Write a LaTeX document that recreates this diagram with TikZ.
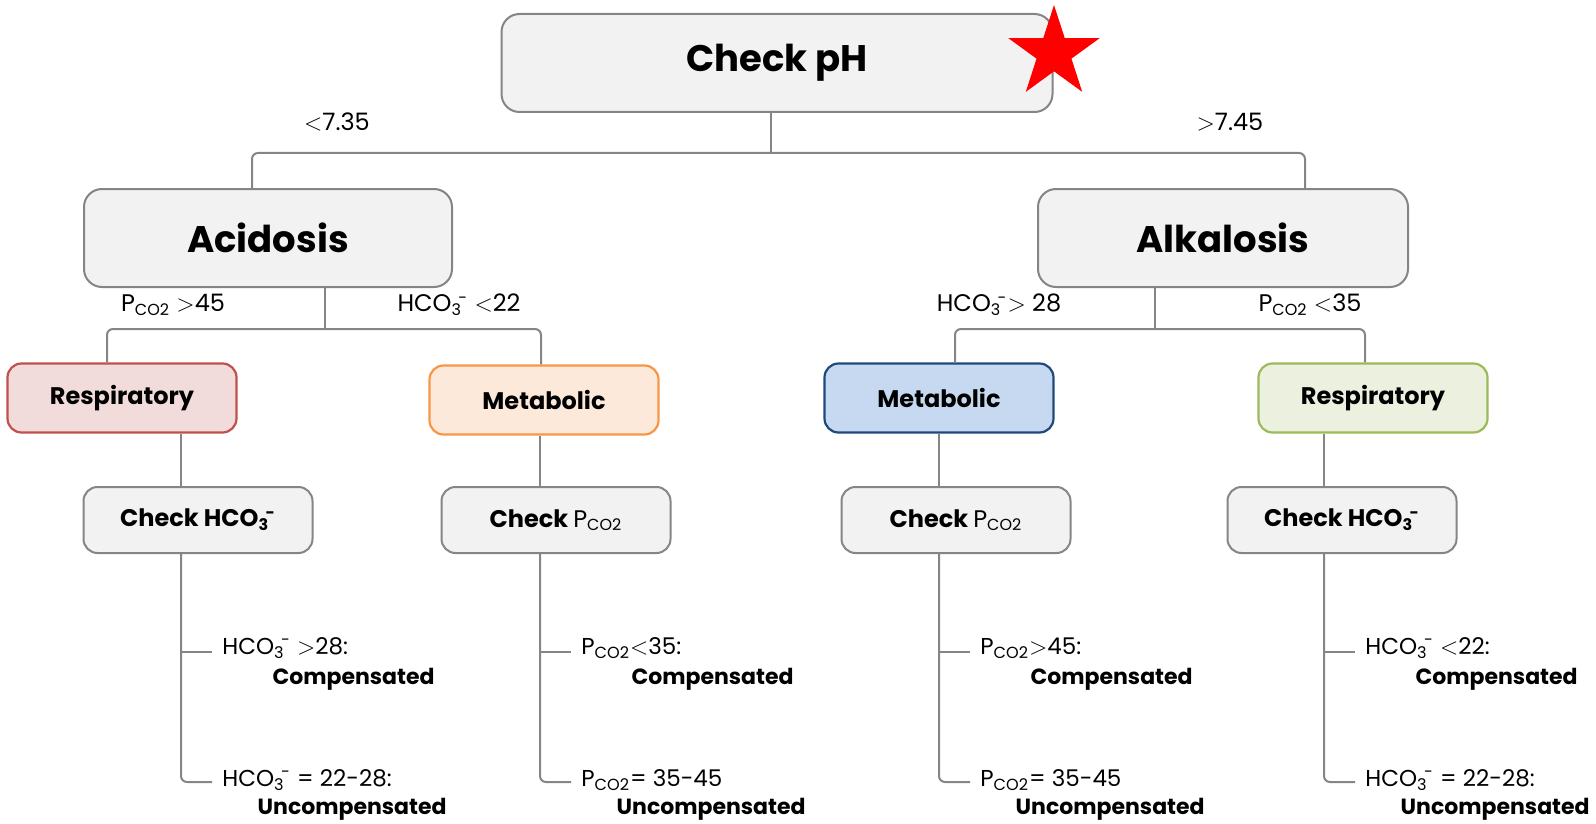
\documentclass[tikz,border=0pt]{standalone}
\usepackage{fontspec}
\setmainfont{Poppins}
\usetikzlibrary{shapes.geometric}

\definecolor{linegray}{HTML}{858585}
\definecolor{boxgray}{HTML}{F2F2F2}
\definecolor{redfill}{HTML}{F2DCDB}
\definecolor{reddraw}{HTML}{C0504D}
\definecolor{orangefill}{HTML}{FDE9D9}
\definecolor{orangedraw}{HTML}{F79646}
\definecolor{bluefill}{HTML}{C6D9F1}
\definecolor{bluedraw}{HTML}{1F497D}
\definecolor{greenfill}{HTML}{EBF1DE}
\definecolor{greendraw}{HTML}{9BBB59}

\newcommand{\pco}{P\textsubscript{CO2}}
\newcommand{\hco}{HCO\textsubscript{3}\kern-0.15em\textsuperscript{-}}
\newcommand{\lt}{$<$}
\newcommand{\gt}{$>$}

\tikzset{
  box/.style={draw=linegray, fill=boxgray, line width=1pt, rounded corners=7pt, align=center},
  bigbox/.style={box, minimum height=49pt, rounded corners=9pt, font=\fontsize{18.5}{22}\selectfont\bfseries},
  typebox/.style={box, line width=1.1pt, minimum width=114.5pt, minimum height=34.5pt, font=\fontsize{12}{14}\selectfont\bfseries},
  checkbox/.style={box, minimum width=114.5pt, minimum height=33pt, font=\fontsize{12}{14}\selectfont\bfseries},
  cond/.style={inner sep=0pt, font=\fontsize{12}{14}\selectfont},
  leaf/.style={inner sep=0pt, anchor=west, font=\fontsize{11.5}{14}\selectfont},
  result/.style={inner sep=0pt, anchor=east, font=\fontsize{11}{14}\selectfont\bfseries},
  conn/.style={draw=linegray, line width=1pt, rounded corners=3pt}
}

\begin{document}
\begin{tikzpicture}[x=0.5pt, y=-0.5pt]
    \useasboundingbox (0,0) rectangle (1596,824);

    % top of the tree
    \node[bigbox, minimum width=275.5pt] at (777,63) (ph) {Check pH};
    \node[star, star points=5, star point ratio=2.618, fill=red, inner sep=0pt, minimum size=48pt] at (1054,53) (star) {};
    \node[bigbox, minimum width=184pt] at (268,238) (acid) {Acidosis};
    \node[bigbox, minimum width=185pt] at (1223,238) (alk) {Alkalosis};

    % second level
    \node[typebox, fill=redfill, draw=reddraw] at (122,398) (resp1) {Respiratory};
    \node[typebox, fill=orangefill, draw=orangedraw] at (544,400) (met1) {Metabolic};
    \node[typebox, fill=bluefill, draw=bluedraw] at (939,398) (met2) {Metabolic};
    \node[typebox, fill=greenfill, draw=greendraw] at (1373,398) (resp2) {Respiratory};

    \node[checkbox] at (198,520) (chk1) {Check \hco};
    \node[checkbox] at (556,520) (chk2) {Check \textmd{\pco}};
    \node[checkbox] at (956,520) (chk3) {Check \textmd{\pco}};
    \node[checkbox] at (1342,520) (chk4) {Check \hco};

    % branch labels
    \node[cond] at (337,122) (lo) {\lt7.35};
    \node[cond] at (1230,122) (hi) {\gt7.45};
    \node[cond] at (173,305) (c1) {\pco\ \gt45};
    \node[cond] at (459,305) (c2) {\hco\ \lt22};
    \node[cond] at (999,305) (c3) {\hco\gt\ 28};
    \node[cond] at (1310,305) (c4) {\pco\ \lt35};

    % connectors
    \coordinate (j0) at (771,153);
    \coordinate (j1) at (325,329);
    \coordinate (j2) at (1155,329);
    \draw[conn] (ph.south -| j0) -- (j0);
    \draw[conn] (j0) -| ([xshift=-8pt]acid.north);
    \draw[conn] (j0) -| ([xshift=41pt]alk.north);
    \draw[conn] (acid.south -| j1) -- (j1);
    \draw[conn] (j1) -| ([xshift=-7.5pt]resp1.north);
    \draw[conn] (j1) -| ([xshift=-1.5pt]met1.north);
    \draw[conn] (alk.south -| j2) -- (j2);
    \draw[conn] (j2) -| ([xshift=8pt]met2.north);
    \draw[conn] (j2) -| ([xshift=-4pt]resp2.north);

    \foreach \n/\x/\mid/\up/\down in {1/181/resp1/{\hco\ \gt28:}/{\hco\ = 22-28:},
        2/540/met1/{\pco\lt35:}/{\pco= 35-45},
        3/939/met2/{\pco\gt45:}/{\pco= 35-45},
        4/1324/resp2/{\hco\ \lt22:}/{\hco\ = 22-28:}} {
      \coordinate (s\n) at (\x,0);
      \coordinate (ka\n) at (\x+31,652);
      \coordinate (kb\n) at (\x+31,782);
      \draw[conn] (\mid.south -| s\n) -- (chk\n.north -| s\n);
      \draw[conn] (chk\n.south -| s\n) |- (kb\n);
      \draw[conn] (ka\n -| s\n) -- (ka\n);
      \node[leaf] at (\x+41,648) (ua\n) {\up};
      \node[result] at (\x+254,679) (ub\n) {Compensated};
      \node[leaf] at (\x+41,780) (da\n) {\down};
      \node[result] at (\x+266,809) (db\n) {Uncompensated};
    }
\end{tikzpicture}
\end{document}
